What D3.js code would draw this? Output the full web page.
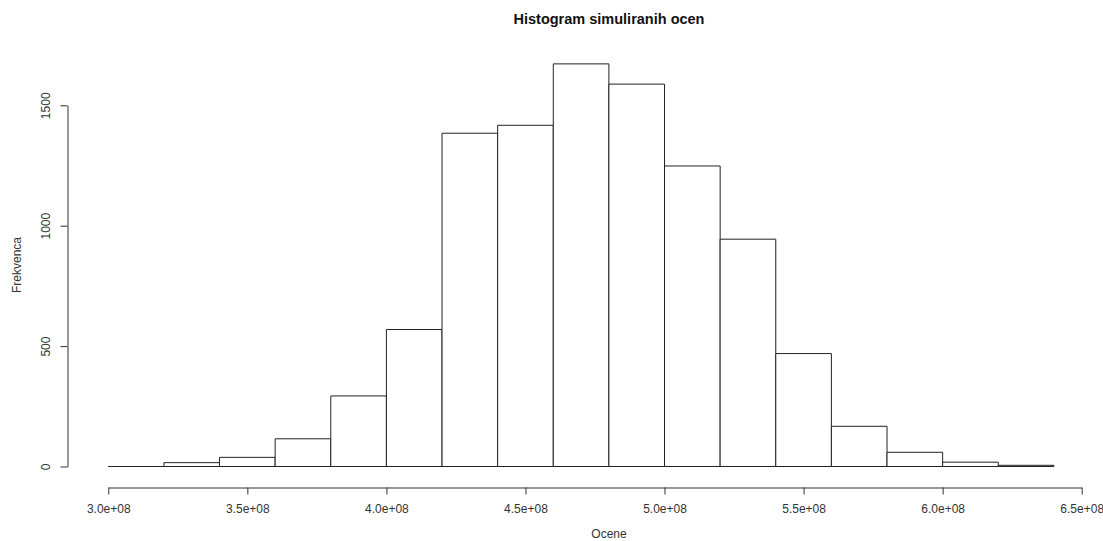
<!DOCTYPE html>
<html>
<head>
<meta charset="utf-8">
<script src="https://cdn.jsdelivr.net/npm/d3@7"></script>
<style>
  html, body { margin: 0; padding: 0; background: #fff; }
  svg { display: block; font-family: "Liberation Sans", Arial, sans-serif; }
</style>
</head>
<body>
<svg id="chart" width="1103" height="541"></svg>
<script>
// Histogram bin edges (lower bounds) and counts
const binStarts = [3.0e8, 3.2e8, 3.4e8, 3.6e8, 3.8e8, 4.0e8, 4.2e8, 4.4e8, 4.6e8,
                   4.8e8, 5.0e8, 5.2e8, 5.4e8, 5.6e8, 5.8e8, 6.0e8, 6.2e8];
const binWidth = 2e7;
const counts = [0, 16, 38, 115, 293, 569, 1384, 1417, 1672,
                1588, 1248, 944, 469, 167, 59, 18, 5];

const xTicks = [3.0e8, 3.5e8, 4.0e8, 4.5e8, 5.0e8, 5.5e8, 6.0e8, 6.5e8];
const yTicks = [0, 500, 1000, 1500];

const title = "Histogram simuliranih ocen";
const xLabel = "Ocene";
const yLabel = "Frekvenca";

const svg = d3.select("#chart");

const x = d3.scaleLinear().domain([3.0e8, 6.5e8]).range([108.3, 1081.7]);
const y = d3.scaleLinear().domain([0, 1500]).range([466.5, 105.3]);

const fmt = v => (v / 1e8).toFixed(1) + "e+08";

// bars as closed outlines, so empty bins still show along the baseline
const bins = binStarts.map((s, i) => ({ x0: s, x1: s + binWidth, n: counts[i] }));
svg.append("g")
  .selectAll("path")
  .data(bins)
  .join("path")
  .attr("d", d => {
    const l = x(d.x0), r = x(d.x1), t = y(d.n), b = y(0);
    return `M${l},${b}V${t}H${r}V${b}Z`;
  })
  .attr("fill", "#fff")
  .attr("stroke", "#222")
  .attr("stroke-width", 1);

// x axis
const xAxis = svg.append("g")
  .attr("transform", "translate(0,487.5)")
  .call(d3.axisBottom(x).tickValues(xTicks).tickFormat(fmt).tickSize(7).tickSizeOuter(0));
xAxis.select(".domain").attr("stroke", "#333");
xAxis.selectAll(".tick line").attr("stroke", "#333");
xAxis.selectAll(".tick text")
  .attr("fill", "#333")
  .attr("font-size", 12)
  .attr("font-family", "Liberation Sans, Arial, sans-serif")
  .attr("dy", "1.25em");

// y axis
const yAxis = svg.append("g")
  .attr("transform", "translate(67.5,0)")
  .call(d3.axisLeft(y).tickValues(yTicks).tickFormat(d3.format("d")).tickSize(7).tickSizeOuter(0));
yAxis.select(".domain").attr("stroke", "#333");
yAxis.selectAll(".tick line").attr("stroke", "#333");
yAxis.selectAll(".tick text")
  .attr("fill", "#333")
  .attr("font-size", 12)
  .attr("font-family", "Liberation Sans, Arial, sans-serif")
  .attr("x", 0)
  .attr("dy", 0)
  .attr("text-anchor", "middle")
  .attr("transform", "translate(-18,0) rotate(-90)");

// title and axis labels
svg.append("text")
  .attr("x", 609).attr("y", 24)
  .attr("text-anchor", "middle")
  .attr("font-size", 14.5)
  .attr("font-weight", "bold")
  .attr("fill", "#111")
  .text(title);

svg.append("text")
  .attr("x", 609).attr("y", 538)
  .attr("text-anchor", "middle")
  .attr("font-size", 12)
  .attr("fill", "#333")
  .text(xLabel);

svg.append("text")
  .attr("transform", "translate(21,265) rotate(-90)")
  .attr("text-anchor", "middle")
  .attr("font-size", 12)
  .attr("fill", "#333")
  .text(yLabel);
</script>
</body>
</html>
